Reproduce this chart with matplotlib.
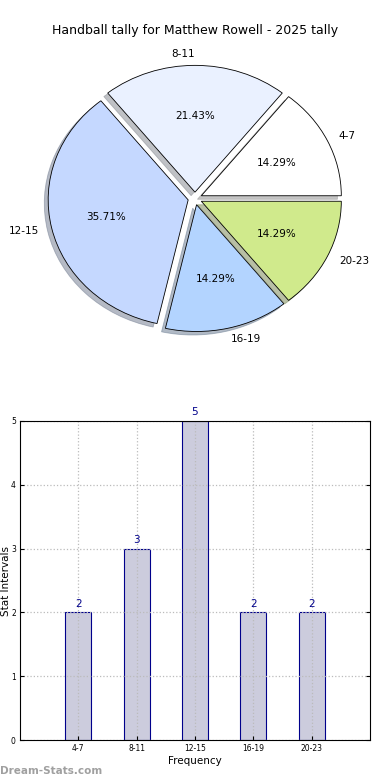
import matplotlib
matplotlib.use("Agg")
import matplotlib.pyplot as plt
import numpy as np

#-----data-----#
intervals = ["4-7", "8-11", "12-15", "16-19", "20-23"]
tally = [2, 3, 5, 2, 2]
slice_colors = ["#ffffff", "#eaf1ff", "#c5d8ff", "#b3d4ff", "#d0ea8c"]
yticks = [0, 1, 2, 3, 4, 5]
title = "Handball tally for Matthew Rowell - 2025 tally"
#-----data-----#

fig = plt.figure(figsize=(3.9, 7.8), dpi=100)

#-----pie-----#
ax1 = fig.add_axes([20/390, 1 - 357/780, 350/390, 317/780])
wedges, texts, autotexts = ax1.pie(tally, labels=intervals, colors=slice_colors,
                                   explode=[0.05]*len(tally),
                                   shadow={"ox": -0.02, "oy": -0.02, "shade": 0.45},
                                   autopct="%.2f%%", startangle=0, labeldistance=1.09,
                                   wedgeprops=dict(edgecolor="black", linewidth=0.6),
                                   textprops=dict(fontsize=7.5))
ax1.set_aspect("auto")
ax1.set_xlim(-1.25, 1.25)
ax1.set_ylim(-1.25, 1.25)
fig.text(0.5, 1 - 30.5/780, title, ha="center", va="center", fontsize=9)

#-----bars-----#
ax2 = fig.add_axes([20/390, 40/780, 350/390, 319/780])
x = np.arange(1, len(tally) + 1)
bars = ax2.bar(x, tally, width=0.45, color="#ccccdd", edgecolor="#00008b", linewidth=0.8, zorder=2)
for xi, v in zip(x, tally):
    ax2.text(xi, v + 0.06, str(v), ha="center", va="bottom", color="#00008b", fontsize=7.5)
ax2.set_xlim(0, 6)
ax2.set_ylim(0, 5)
ax2.set_xticks(x)
ax2.set_xticklabels(intervals)
ax2.set_yticks(yticks)
ax2.tick_params(axis="both", labelsize=5.5, direction="in", length=3, right=True, top=False, pad=3)
ax2.grid(True, linestyle=":", color="#bbbbbb", linewidth=0.9, zorder=3)
ax2.set_axisbelow(False)
for sp in ax2.spines.values():
    sp.set_zorder(5)
ax2.set_xlabel("Frequency", fontsize=7.5, labelpad=2)
ax2.set_ylabel("Stat Intervals", fontsize=7.5)
ax2.yaxis.set_label_coords(-0.027, 0.5)

fig.text(0.0, 1 - 771/780, "Dream-Stats.com", ha="left", va="center", color="#a0a0a0",
         fontsize=7.5, fontweight="bold")

plt.savefig("out.png", dpi=100)
